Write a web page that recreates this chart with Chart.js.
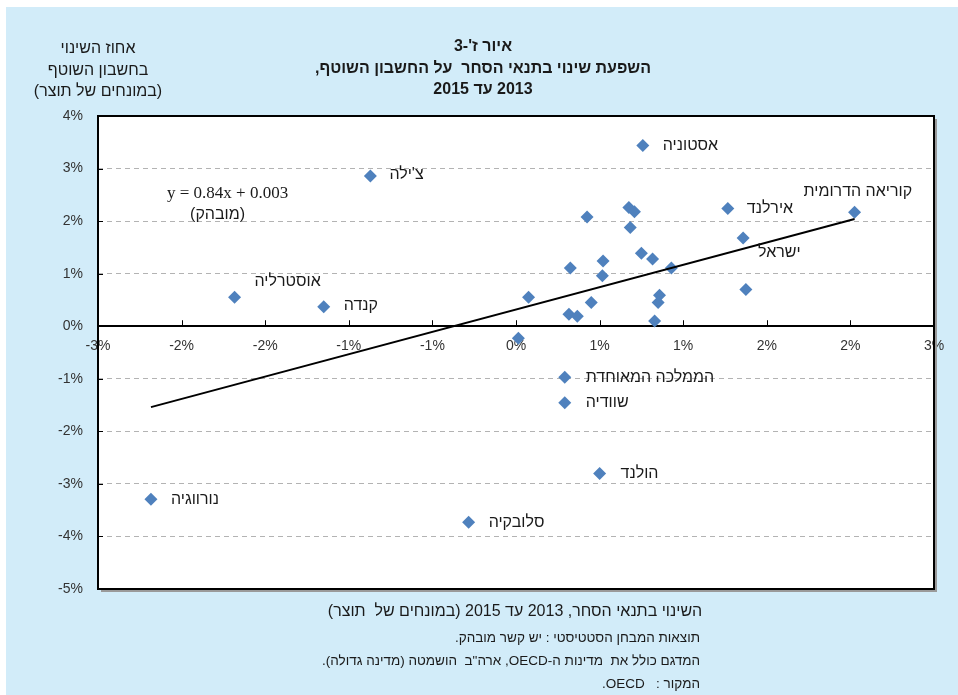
<!DOCTYPE html>
<html>
<head>
<meta charset="utf-8">
<script src="https://cdn.jsdelivr.net/npm/chart.js@4.4.1/dist/chart.umd.min.js"></script>
<style>
  body { margin: 0; background: #fff; width: 958px; height: 695px; overflow: hidden; font-family: "Liberation Sans", "DejaVu Sans", sans-serif; }
  #wrap { position: absolute; left: 6px; top: 7px; width: 952px; height: 688px; background: #d2ecf9; }
  canvas { position: absolute; left: 0; top: 0; }
  .txt { position: absolute; color: #1a1a1a; white-space: nowrap; }
  #title { left: 227px; width: 500px; top: 28px; text-align: center; font-weight: bold; font-size: 16px; line-height: 21.5px; }
  #ytitle { left: 2px; width: 180px; top: 30px; text-align: center; font-size: 16px; line-height: 21.5px; }
  #xtitle { left: 259px; width: 500px; top: 595px; text-align: center; font-size: 16px; }
  #notes { right: 258px; top: 619px; text-align: right; font-size: 13.5px; line-height: 23px; }
</style>
</head>
<body>
<div id="wrap">
  <canvas id="myChart" width="952" height="688"></canvas>
  <div class="txt" id="title" dir="rtl">איור ז'-3<br>השפעת שינוי בתנאי הסחר&nbsp; על החשבון השוטף,<br>2013 עד 2015</div>
  <div class="txt" id="ytitle" dir="rtl">אחוז השינוי<br>בחשבון השוטף<br>(במונחים של תוצר)</div>
  <div class="txt" id="xtitle" dir="rtl">השינוי בתנאי הסחר, 2013 עד 2015 (במונחים של&nbsp; תוצר)</div>
  <div class="txt" id="notes" dir="rtl">תוצאות המבחן הסטטיסטי : יש קשר מובהק.<br>המדגם כולל את&nbsp; מדינות ה-OECD, ארה"ב&nbsp; הושמטה (מדינה גדולה).<br>המקור :&nbsp;&nbsp; OECD.</div>
</div>
<script>
// countries (empty name = unlabeled point)
var countries = ['אסטוניה', "צ'ילה", 'אוסטרליה', 'קנדה', 'קוריאה הדרומית', 'אירלנד', 'ישראל',
  'הממלכה המאוחדת', 'שוודיה', 'הולנד', 'נורווגיה', 'סלובקיה',
  '', '', '', '', '', '', '', '', '', '', '', '', '', '', '', '', '', '', ''];
// change in terms of trade, % of GDP
var totChange = [0.91, -1.045, -2.02, -1.38, 2.43, 1.52, 1.63,
  0.35, 0.35, 0.60, -2.62, -0.34,
  1.65, 0.51, 0.81, 0.85, 0.82, 0.90, 0.98, 1.115, 0.625, 0.62, 0.39, 0.09, 1.03, 1.02, 0.54, 0.38, 0.44, 0.995, 0.017];
// change in current account, % of GDP
var caChange = [3.44, 2.86, 0.55, 0.37, 2.17, 2.24, 1.68,
  -0.97, -1.455, -2.80, -3.29, -3.73,
  0.70, 2.08, 2.26, 2.18, 1.88, 1.39, 1.28, 1.11, 1.24, 0.96, 1.11, 0.55, 0.59, 0.45, 0.45, 0.23, 0.19, 0.10, -0.23];
// fitted line end points as drawn
var trendX = [-2.62, 2.43];
var trendY = [-1.54, 2.04];
var xTickValues = [-3, -2.4, -1.8, -1.2, -0.6, 0, 0.6, 1.2, 1.8, 2.4, 3];
var xTickLabels = ['-3%', '-2%', '-2%', '-1%', '-1%', '0%', '1%', '1%', '2%', '2%', '3%'];
var yTickValues = [4, 3, 2, 1, 0, -1, -2, -3, -4, -5];

// label placement next to each marker (px)
var labelOffsets = [[20, 0], [19, -1], [20, -16], [20, -1], [-51, -21], [19, 0], [15, 15],
  [21, 0], [21, 0], [21, 0], [20, 0], [20, 0]];

var points = totChange.map(function (x, i) { return { x: x, y: caChange[i] }; });
var trend = trendX.map(function (x, i) { return { x: x, y: trendY[i] }; });

var frame = {
  id: 'frame',
  beforeDraw: function (chart) {
    var a = chart.chartArea, c = chart.ctx;
    c.save();
    c.fillStyle = '#ffffff';
    c.fillRect(a.left, a.top, a.right - a.left, a.bottom - a.top);
    c.restore();
  },
  afterDraw: function (chart) {
    var a = chart.chartArea, c = chart.ctx;
    var xs = chart.scales.x, ys = chart.scales.y;
    c.save();
    // shadow
    c.strokeStyle = '#9a9a9a';
    c.lineWidth = 2;
    c.beginPath();
    c.moveTo(a.right + 2, a.top + 3); c.lineTo(a.right + 2, a.bottom + 2); c.lineTo(a.left + 3, a.bottom + 2);
    c.stroke();
    c.strokeStyle = '#000';
    c.lineWidth = 2;
    c.strokeRect(a.left, a.top, a.right - a.left, a.bottom - a.top);
    // tick marks
    c.lineWidth = 1;
    var y0 = ys.getPixelForValue(0);
    xTickValues.forEach(function (v) {
      var px = Math.round(xs.getPixelForValue(v)) + 0.5;
      c.beginPath(); c.moveTo(px, y0); c.lineTo(px, y0 - 6); c.stroke();
    });
    yTickValues.forEach(function (v) {
      var py = Math.round(ys.getPixelForValue(v)) + 0.5;
      c.beginPath(); c.moveTo(a.left, py); c.lineTo(a.left + 5, py); c.stroke();
    });
    c.restore();
  }
};

var labels = {
  id: 'labels',
  afterDatasetsDraw: function (chart) {
    var c = chart.ctx;
    var meta = chart.getDatasetMeta(1);
    var xs = chart.scales.x, ys = chart.scales.y;
    c.save();
    c.fillStyle = '#1a1a1a';
    c.font = '16px "Liberation Sans", "DejaVu Sans", sans-serif';
    c.direction = 'rtl';
    c.textAlign = 'left';
    c.textBaseline = 'middle';
    countries.forEach(function (name, i) {
      if (!name) return;
      var el = meta.data[i];
      c.fillText(name, el.x + labelOffsets[i][0], el.y + labelOffsets[i][1]);
    });
    // regression equation
    var ex = xs.getPixelForValue(-2.07), ey = ys.getPixelForValue(2.52);
    c.direction = 'ltr';
    c.textAlign = 'center';
    c.font = '17px "Liberation Serif", serif';
    c.fillText('y = 0.84x + 0.003', ex, ey);
    c.direction = 'rtl';
    c.font = '16px "Liberation Sans", "DejaVu Sans", sans-serif';
    c.fillText('(מובהק)', ex - 10, ey + 21);
    c.restore();
  }
};

var ctx = document.getElementById('myChart').getContext('2d');
var myChart = new Chart(ctx, {
  type: 'scatter',
  data: {
    datasets: [
      {
        type: 'line',
        label: 'trend',
        data: trend,
        borderColor: '#000',
        borderWidth: 2,
        pointRadius: 0,
        fill: false
      },
      {
        label: 'OECD',
        data: points,
        pointStyle: 'rectRot',
        pointRadius: 6.5,
        pointHoverRadius: 6.5,
        backgroundColor: '#4f81bd',
        borderColor: '#4f81bd',
        borderWidth: 0
      }
    ]
  },
  options: {
    responsive: false,
    animation: false,
    events: [],
    layout: { padding: { top: 109, right: 24, bottom: 106, left: 0 } },
    plugins: { legend: { display: false }, tooltip: { enabled: false } },
    scales: {
      x: {
        type: 'linear',
        min: -3, max: 3,
        position: { y: 0 },
        afterBuildTicks: function (s) { s.ticks = xTickValues.map(function (v) { return { value: v }; }); },
        afterFit: function (s) { s.height = 0; },
        grid: { display: false, drawTicks: false },
        border: { display: true, color: '#000', width: 2 },
        ticks: {
          autoSkip: false, maxRotation: 0, padding: 12,
          color: '#333',
          font: { family: '"Liberation Sans", sans-serif', size: 14 },
          callback: function (v, i) { return xTickLabels[i]; }
        }
      },
      y: {
        type: 'linear',
        min: -5, max: 4,
        afterBuildTicks: function (s) { s.ticks = yTickValues.map(function (v) { return { value: v }; }); },
        afterFit: function (s) { s.width = 92; },
        grid: {
          drawTicks: false,
          lineWidth: 1,
          color: function (c) {
            var v = c.tick && c.tick.value;
            return (v === 0 || v === 4 || v === -5) ? 'rgba(0,0,0,0)' : '#b3b3b3';
          }
        },
        border: { display: false, dash: [5, 4] },
        ticks: {
          padding: 15,
          color: '#333',
          font: { family: '"Liberation Sans", sans-serif', size: 14 },
          callback: function (v) { return v + '%'; }
        }
      }
    }
  },
  plugins: [frame, labels]
});
</script>
</body>
</html>
